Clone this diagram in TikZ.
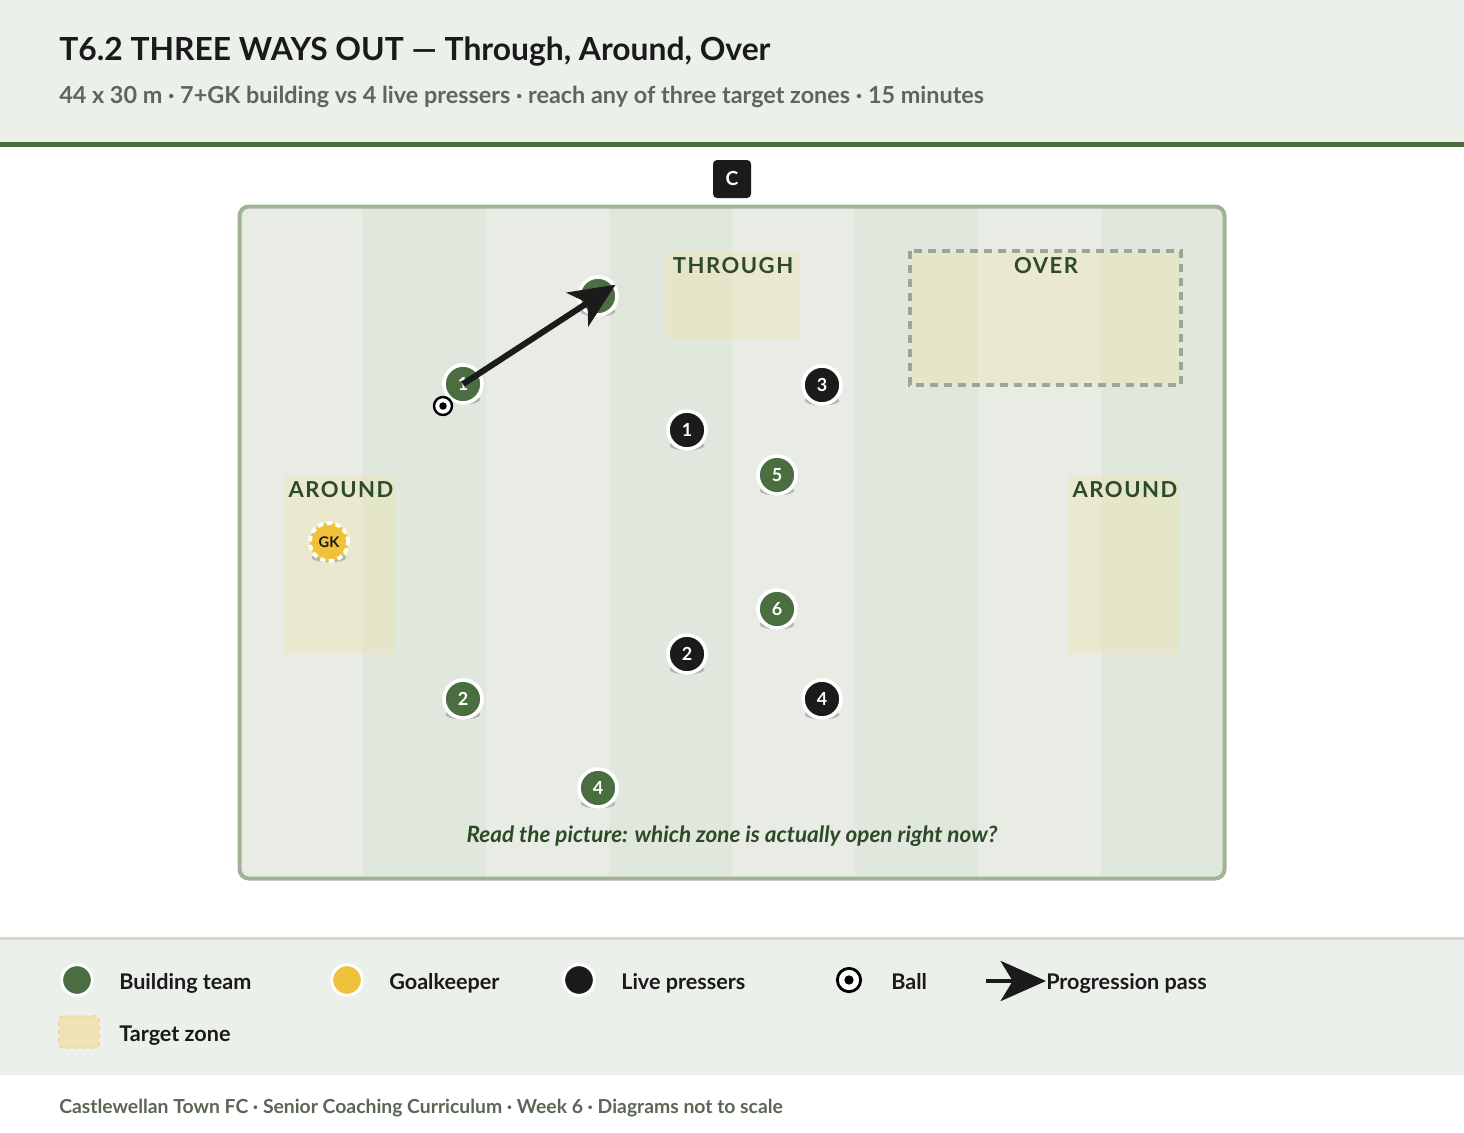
\documentclass[tikz,border=0pt]{standalone}
\usepackage{fontspec}
\setmainfont{Lato}
\newfontfamily\zonefont[LetterSpace=7]{Lato}
\usetikzlibrary{arrows.meta,shapes.geometric}
\definecolor{hdrbg}{HTML}{ECF0EA}
\definecolor{hdrline}{HTML}{4A6B3F}
\definecolor{titlecol}{HTML}{1A1A1A}
\definecolor{subcol}{HTML}{5A6957}
\definecolor{stripeA}{HTML}{E8ECE5}
\definecolor{stripeB}{HTML}{E0E7DD}
\definecolor{pitchborder}{HTML}{9FB497}
\definecolor{zonefill}{HTML}{F2E2A6}
\definecolor{zonetext}{HTML}{2D4A27}
\definecolor{overdash}{HTML}{9AA697}
\definecolor{teamgreen}{HTML}{4A6E3F}
\definecolor{pressblack}{HTML}{1B1B1B}
\definecolor{gkyellow}{HTML}{F0C23B}
\definecolor{legline}{HTML}{D9D5CB}
\definecolor{footcol}{HTML}{5B6657}
\definecolor{legzone}{HTML}{F0E3B3}
\definecolor{legzonedash}{HTML}{EBD58E}
\tikzset{
  plbase/.style={circle, minimum size=28.5pt, inner sep=0pt, draw=white, line width=2.7pt,
    text=white, font=\fontsize{13.5}{15}\selectfont\bfseries},
  greenpl/.style={plbase, fill=teamgreen},
  blackpl/.style={plbase, fill=pressblack},
  gkpl/.style={circle, minimum size=28.5pt, inner sep=0pt, fill=gkyellow, draw=white,
    line width=2.8pt, dash pattern=on 4pt off 2.7pt, text=titlecol, font=\fontsize{11}{12}\selectfont\bfseries},
  shadowel/.style={fill=black!45, opacity=0.55},
  zonelabel/.style={anchor=base, inner sep=0pt, text=zonetext, font=\fontsize{16.5}{18}\selectfont\bfseries\zonefont},
  zonebox/.style={fill=zonefill, opacity=0.33},
  ballnode/.style={circle, minimum size=13.5pt, inner sep=0pt, fill=white, draw=black, line width=1.8pt},
  passarrow/.style={draw=pressblack, line width=4.5pt, -{Stealth[length=34pt, width=30pt, inset=9pt]}},
  legtext/.style={anchor=base west, inner sep=0pt, text=titlecol, font=\fontsize{16.2}{18}\selectfont\bfseries},
  legdot/.style={circle, minimum size=23pt, inner sep=0pt, draw=white, line width=2.2pt},
}
\newcommand\plshadow[2]{\fill[shadowel] (#1,#2+15.5) ellipse (13pt and 3.7pt);}
\begin{document}
\begin{tikzpicture}[x=0.75pt,y=-0.75pt]
\useasboundingbox (0,0) rectangle (1464,1132);
\fill[white] (0,0) rectangle (1464,1132);
% header
\fill[hdrbg] (0,0) rectangle (1464,142);
\fill[hdrline] (0,142) rectangle (1464,147);
\node[anchor=base west, inner sep=0pt, text=titlecol, font=\fontsize{23.85}{28}\selectfont\bfseries] (title) at (59,60) {T6.2 THREE WAYS OUT — Through, Around, Over};
\node[anchor=base west, inner sep=0pt, text=subcol, font=\fontsize{17.55}{21}\selectfont\bfseries] (subtitle) at (59,103) {44 x 30 m · 7+GK building vs 4 live pressers · reach any of three target zones · 15 minutes};
% coach badge
\node[fill=pressblack, rounded corners=3pt, minimum size=28.5pt, inner sep=0pt, text=white, font=\fontsize{14.5}{16}\selectfont\bfseries] (coach) at (732,179) {C};
% pitch
\begin{scope}
\clip[rounded corners=6pt] (240,207) rectangle (1224,878);
\foreach \i in {0,...,7}{
  \pgfmathtruncatemacro\stripeparity{mod(\i,2)}
  \ifnum\stripeparity=0 \fill[stripeA] (240+123*\i,200) rectangle (240+123*\i+123,885);
  \else \fill[stripeB] (240+123*\i,200) rectangle (240+123*\i+123,885); \fi
}
\end{scope}
\draw[pitchborder, line width=3pt, rounded corners=7pt] (239.5,206.5) rectangle (1224.5,878.5);
% zones
\fill[zonebox] (666,251) rectangle (799,340);
\fill[zonebox] (910,251) rectangle (1181,385);
\draw[overdash, line width=2.4pt, dash pattern=on 6pt off 4.5pt] (910,251) rectangle (1181,385);
\fill[zonebox] (284,475) rectangle (396,653);
\fill[zonebox] (1068,475) rectangle (1180,653);
\node[zonelabel] (lthrough) at (733,273) {THROUGH};
\node[zonelabel] (lover) at (1046,273) {OVER};
\node[zonelabel] (laroundl) at (341,497) {AROUND};
\node[zonelabel] (laroundr) at (1125,497) {AROUND};
% shadows
\plshadow{463}{384}\plshadow{598}{296}\plshadow{777}{475}\plshadow{777}{609}
\plshadow{463}{699}\plshadow{598}{788}\plshadow{687}{430}\plshadow{822}{385}
\plshadow{687}{654}\plshadow{822}{699}\plshadow{329}{542}
% players
\node[greenpl] (g1) at (463,384) {1};
\node[greenpl] (gtop) at (598,296) {};
\node[greenpl] (g5) at (777,475) {5};
\node[greenpl] (g6) at (777,609) {6};
\node[greenpl] (g2) at (463,699) {2};
\node[greenpl] (g4) at (598,788) {4};
\node[blackpl] (b1) at (687,430) {1};
\node[blackpl] (b3) at (822,385) {3};
\node[blackpl] (b2) at (687,654) {2};
\node[blackpl] (b4) at (822,699) {4};
\node[gkpl] (gk) at (329,542) {GK};
% ball
\node[ballnode] (ball) at (443,406) {};
\fill[black] (ball.center) circle (2.8pt);
% pass
\draw[passarrow] (g1.center) -- (gtop.33);
% prompt
\node[anchor=base, inner sep=0pt, text=zonetext, font=\fontsize{16.85}{19}\selectfont\bfseries\itshape] (prompt) at (732,842) {Read the picture: which zone is actually open right now?};
% legend
\fill[hdrbg] (0,937) rectangle (1464,1075);
\fill[legline] (0,937) rectangle (1464,940);
\node[legdot, fill=teamgreen] (lgteam) at (77,980) {};
\node[legtext] (tteam) at (119,989) {Building team};
\node[legdot, fill=gkyellow] (lggk) at (347,980) {};
\node[legtext] (tgk) at (389,989) {Goalkeeper};
\node[legdot, fill=pressblack] (lgpress) at (579,980) {};
\node[legtext] (tpress) at (621,989) {Live pressers};
\node[ballnode, minimum size=17.5pt, line width=2.1pt] (lgball) at (849,980) {};
\fill[black] (lgball.center) circle (3.5pt);
\node[legtext] (tball) at (891,989) {Ball};
\coordinate (arrS) at (986,981);
\coordinate (arrE) at (1046,981);
\draw[draw=pressblack, line width=3.4pt, -{Stealth[length=34pt, width=30pt, inset=9pt]}] (arrS) -- (arrE);
\node[legtext] (tpass) at (1046,989) {Progression pass};
\node[fill=legzone, draw=legzonedash, line width=1pt, dashed, rounded corners=3pt, minimum width=30pt, minimum height=24pt, inner sep=0pt] (lgzone) at (79,1032) {};
\node[legtext] (tzone) at (119,1041) {Target zone};
% footer
\node[anchor=base west, inner sep=0pt, text=footcol, font=\fontsize{14.5}{17}\selectfont\bfseries] (footer) at (59,1113) {Castlewellan Town FC · Senior Coaching Curriculum · Week 6 · Diagrams not to scale};
\end{tikzpicture}
\end{document}
